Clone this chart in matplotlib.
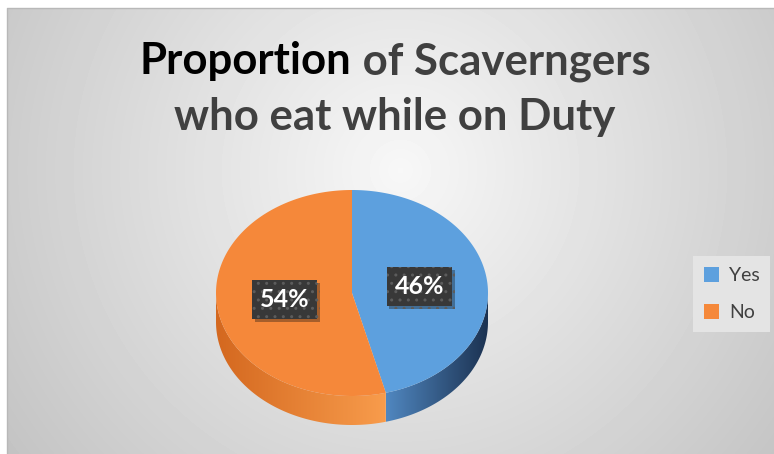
import numpy as np
import matplotlib.pyplot as plt
import matplotlib.patheffects as pe
from matplotlib.patches import Polygon, Patch
from matplotlib.colors import LinearSegmentedColormap

labels = ['Yes', 'No']
shares = [46, 54]
top_colors = ['#5da0de', '#f5883a']
side_colors = [('#5087c0', '#1b3150'), ('#d4681f', '#f89c4c')]

title_bold = 'Proportion'
title_rest = ' of Scaverngers'
title_line2 = 'who eat while on Duty'

W, H = 774, 454
fig = plt.figure(figsize=(W / 100, H / 100), dpi=100, facecolor='white')
ax = fig.add_axes([0, 0, 1, 1])
ax.axis('off')

# soft radial grey background inside the chart frame
x0, y0 = 7, 8
yy, xx = np.mgrid[y0:H, x0:W]
dist = np.hypot(xx - 400, yy - 170)
bg = np.clip(0.97 - 0.19 * dist / 450, 0, 1)
ax.imshow(bg, cmap='gray', vmin=0, vmax=1, extent=(x0, W, H, y0),
          aspect='auto', interpolation='bilinear', zorder=0)
ax.plot([x0, x0, W], [H, y0, y0], color='#b8b8b8', lw=1, zorder=1)

# 3-D pie geometry (pixel units)
cx, cy, a, b, depth = 352, 293, 136, 103, 29


def ellipse(theta, dy=0.0, frac=1.0):
    t = np.radians(theta)
    return cx + frac * a * np.sin(t), cy - frac * b * np.cos(t) + dy


bounds = np.concatenate([[0], np.cumsum(shares)]) / sum(shares) * 360

# side walls on the front half
for i in range(len(shares)):
    s0, s1 = max(bounds[i], 90), min(bounds[i + 1], 270)
    if s1 <= s0:
        continue
    th = np.linspace(s0, s1, 120)
    xt, yt = ellipse(th)
    xb, yb = ellipse(th[::-1], depth)
    wall = Polygon(np.column_stack([np.r_[xt, xb], np.r_[yt, yb]]),
                   closed=True, facecolor='none', edgecolor='none')
    ax.add_patch(wall)
    cmap = LinearSegmentedColormap.from_list('wall%d' % i, side_colors[i])
    im = ax.imshow(np.linspace(0, 1, 256)[None, :], cmap=cmap,
                   extent=(xt.min(), xt.max(), yb.max(), yt.min()),
                   aspect='auto', zorder=2)
    im.set_clip_path(wall)

# top face
for i in range(len(shares)):
    th = np.linspace(bounds[i], bounds[i + 1], 200)
    xt, yt = ellipse(th)
    pts = np.vstack([[cx, cy], np.column_stack([xt, yt])])
    ax.add_patch(Polygon(pts, closed=True, facecolor=top_colors[i],
                         edgecolor='none', zorder=3))

# percentage labels in dark boxes
for i in range(len(shares)):
    mid = (bounds[i] + bounds[i + 1]) / 2
    lx, ly = ellipse(mid, frac=0.5)
    t = ax.text(lx, ly, '%d%%' % shares[i], ha='center', va='center',
                color='white', fontsize=18, fontweight='bold', family='Lato',
                zorder=5,
                bbox=dict(boxstyle='square,pad=0.32', facecolor='#383838',
                          edgecolor='#5c5c5c', hatch='..', linewidth=0))
    t.get_bbox_patch().set_path_effects(
        [pe.SimplePatchShadow(offset=(2, -2), alpha=0.35), pe.Normal()])

# two-tone title
title_kw = dict(fontsize=31.5, fontweight='bold', family='Lato', va='baseline')
fig.canvas.draw()
renderer = fig.canvas.get_renderer()
tc = 395
probe = ax.text(0, 0, title_bold + title_rest, **title_kw)
full_w = probe.get_window_extent(renderer).width
probe.remove()
t1 = ax.text(tc - full_w / 2, 74, title_bold, color='black', ha='left', **title_kw)
w1 = t1.get_window_extent(renderer).width
ax.text(tc - full_w / 2 + w1, 74, title_rest, color='#404040', ha='left', **title_kw)
ax.text(tc, 130, title_line2, color='#404040', ha='center', **title_kw)

ax.set_xlim(0, W)
ax.set_ylim(H, 0)

handles = [Patch(facecolor=c, edgecolor='none') for c in top_colors]
leg = fig.legend(handles, labels, loc='center left',
                 bbox_to_anchor=(693 / W, 1 - 294 / H),
                 prop={'family': 'Lato', 'size': 14},
                 handlelength=0.8, handleheight=0.8, handletextpad=0.5,
                 labelspacing=1.0, borderpad=0.55, borderaxespad=0,
                 fancybox=False, frameon=True, framealpha=1)
leg.get_frame().set_facecolor('#e4e4e4')
leg.get_frame().set_edgecolor('none')
for txt in leg.get_texts():
    txt.set_color('#404040')

fig.savefig('out.png', dpi=100, facecolor='white')
